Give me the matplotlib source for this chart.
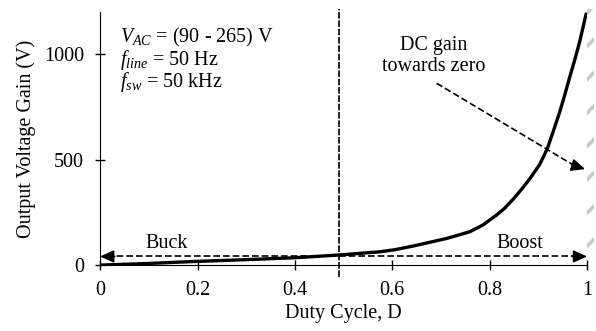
import numpy as np
import matplotlib
matplotlib.use("Agg")
import matplotlib.pyplot as plt

plt.rcParams['font.family'] = ['Liberation Serif', 'DejaVu Serif']
plt.rcParams['mathtext.fontset'] = 'custom'
plt.rcParams['mathtext.rm'] = 'Liberation Serif'
plt.rcParams['mathtext.it'] = 'Liberation Serif:italic'
plt.rcParams['hatch.linewidth'] = 2.5

# duty cycle vs output voltage gain
duty = [0, 0.1, 0.19, 0.3, 0.4, 0.49, 0.574, 0.605, 0.642, 0.711, 0.759,
        0.786, 0.814, 0.83, 0.848, 0.865, 0.882, 0.903, 0.918, 0.93, 0.944,
        0.954, 0.964, 0.975, 0.985, 0.998]
gain = [0, 8, 17, 26, 35, 48, 63, 73, 90, 126, 158,
        190, 237, 268, 312, 358, 408, 478, 550, 630, 727,
        805, 888, 975, 1060, 1190]

d_split = 0.49          # buck / boost border
arrow_level = 41        # height of the buck/boost arrow
xticks = [0, 0.2, 0.4, 0.6, 0.8, 1]
xtick_labels = ['0', '0.2', '0.4', '0.6', '0.8', '1']
yticks = [0, 500, 1000]

fs = 14.5

fig = plt.figure(figsize=(5.96, 3.31), dpi=100)
ax = fig.add_axes([0.168, 0.199, 0.817, 0.765])

ax.plot(duty, gain, color='black', lw=2.4, solid_capstyle='round',
        solid_joinstyle='round', zorder=3)

# vertical buck/boost border
ax.axvline(d_split, ymin=-0.045, ymax=1.01, color='black', lw=1.2,
           linestyle=(0, (4, 1)), clip_on=False)

# double arrow Buck <-> Boost
ax.plot([0.015, 0.985], [arrow_level, arrow_level], color='black', lw=1.2,
        linestyle=(0, (4, 1.8)))
head = dict(arrowstyle='-|>,head_length=0.55,head_width=0.25', color='black',
            lw=1.2, mutation_scale=15, shrinkA=0, shrinkB=0)
ax.annotate('', xy=(0.0, arrow_level), xytext=(0.03, arrow_level), arrowprops=head)
ax.annotate('', xy=(1.0, arrow_level), xytext=(0.97, arrow_level), arrowprops=head)
ax.text(0.136, 82, 'Buck', ha='center', va='baseline', fontsize=fs)
ax.text(0.862, 82, 'Boost', ha='center', va='baseline', fontsize=fs)

# hatched band at D = 1
ax.axvspan(1.0, 1.014, ymin=0.03, ymax=1.01, facecolor='none',
           edgecolor='#c8c8c8', hatch='/', lw=0, clip_on=False)

# DC gain annotation
ax.text(0.685, 1085, 'DC gain\ntowards zero', ha='center', va='top',
        fontsize=fs, linespacing=1.1)
ax.plot([0.691, 0.975], [862, 470], color='black', lw=1.2,
        linestyle=(0, (4, 1.8)))
ax.annotate('', xy=(0.996, 455), xytext=(0.97, 474), arrowprops=head)

# operating conditions
ax.text(0.04, 1057, r'$V_{AC}$ = (90 - 265) V', fontsize=fs, va='baseline')
ax.text(0.04, 948, r'$f_{line}$ = 50 Hz', fontsize=fs, va='baseline')
ax.text(0.04, 844, r'$f_{sw}$ = 50 kHz', fontsize=fs, va='baseline')

ax.set_xlim(0, 1)
ax.set_ylim(0, 1200)
ax.set_xticks(xticks)
ax.set_xticklabels(xtick_labels)
ax.set_yticks(yticks)
ax.tick_params(direction='inout', length=7, width=1, labelsize=fs, pad=8)
ax.tick_params(axis='y', pad=8)
ax.spines['top'].set_visible(False)
ax.spines['right'].set_visible(False)
ax.set_xlabel('Duty Cycle, D', fontsize=fs, labelpad=3)
ax.set_ylabel('Output Voltage Gain (V)', fontsize=fs, labelpad=6)

fig.savefig('out.png', dpi=100)
